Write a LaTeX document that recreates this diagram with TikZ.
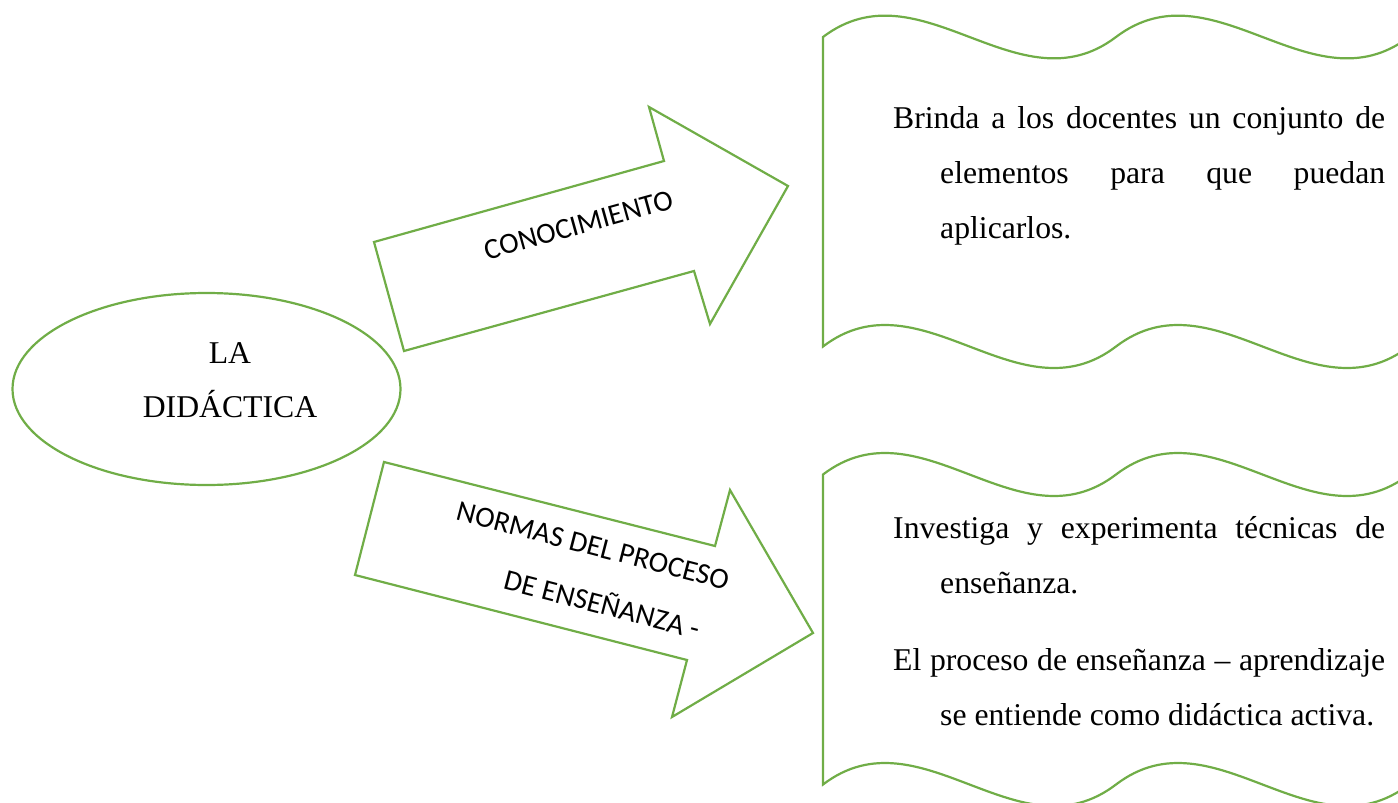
\documentclass[tikz,border=0pt]{standalone}
\usepackage{fontspec}
\setmainfont{Liberation Serif}
\newfontfamily\calibri{Carlito}
\usetikzlibrary{shapes.geometric}
\definecolor{lgreen}{HTML}{70AD47}
\begin{document}
\begin{tikzpicture}[x=1pt,y=-1pt,
  outline/.style={draw=lgreen, line width=2.2pt, line join=miter},
  arrowtext/.style={font=\calibri\fontsize{29.3}{35}\selectfont, inner sep=0pt, anchor=base},
  serif/.style={font=\fontsize{31.7}{54}\selectfont, inner sep=0pt, anchor=base},
  para/.style={font=\fontsize{31.7}{55}\selectfont, inner sep=0pt, text width=492pt, align=justify, anchor=base west}]
\useasboundingbox (0,0) rectangle (1398,803);

% central ellipse
\node[outline, ellipse, minimum width=388pt, minimum height=192pt, inner sep=0pt] (did) at (206.5,389) {};
\node[serif] (la) at (230,363) {LA};
\node[serif] (didac) at (230,417) {DIDÁCTICA};

% arrows
\draw[outline] (374,242) -- (664,161) -- (649,107) -- (788,186) -- (710,324) -- (694,271) -- (404,351) -- cycle;
\draw[outline] (384,462) -- (715,546) -- (730,490) -- (813,633) -- (672,717) -- (687,660) -- (355,575) -- cycle;
\node[arrowtext, rotate=15.5] (conoc) at (581.5,234) {CONOCIMIENTO};
\node[arrowtext, rotate=-14.5] (normasA) at (590.6,555) {NORMAS DEL PROCESO};
\node[arrowtext, rotate=-14.5] (normasB) at (599.6,614) {DE ENSEÑANZA -};

% wavy boxes
\begin{scope}
\clip (0,0) rectangle (1398,803);
\draw[outline] (823,37) .. controls (920.7,-37) and (1018.3,111) .. (1116,37)
  .. controls (1213.7,-37) and (1311.3,111) .. (1409,37) -- (1409,346.5)
  .. controls (1311.3,421) and (1213.7,272) .. (1116,346.5)
  .. controls (1018.3,421) and (920.7,272) .. (823,346.5) -- cycle;
\draw[outline] (823,474.5) .. controls (920.7,400) and (1018.3,549) .. (1116,474.5)
  .. controls (1213.7,400) and (1311.3,549) .. (1409,474.5) -- (1409,784.5)
  .. controls (1311.3,859) and (1213.7,710) .. (1116,784.5)
  .. controls (1018.3,859) and (920.7,710) .. (823,784.5) -- cycle;
\end{scope}

\node[para] (txtA) at (893,128) {\hangindent=47pt\hangafter=1 Brinda a los docentes un conjunto de\linebreak elementos para que puedan\linebreak aplicarlos.\par};
\node[para] (txtB) at (893,538) {\hangindent=47pt\hangafter=1 Investiga y experimenta técnicas de\linebreak enseñanza.\par\vspace{22pt}\hangindent=47pt\hangafter=1 El proceso de enseñanza – aprendizaje\linebreak se entiende como didáctica activa.\par};
\end{tikzpicture}
\end{document}
